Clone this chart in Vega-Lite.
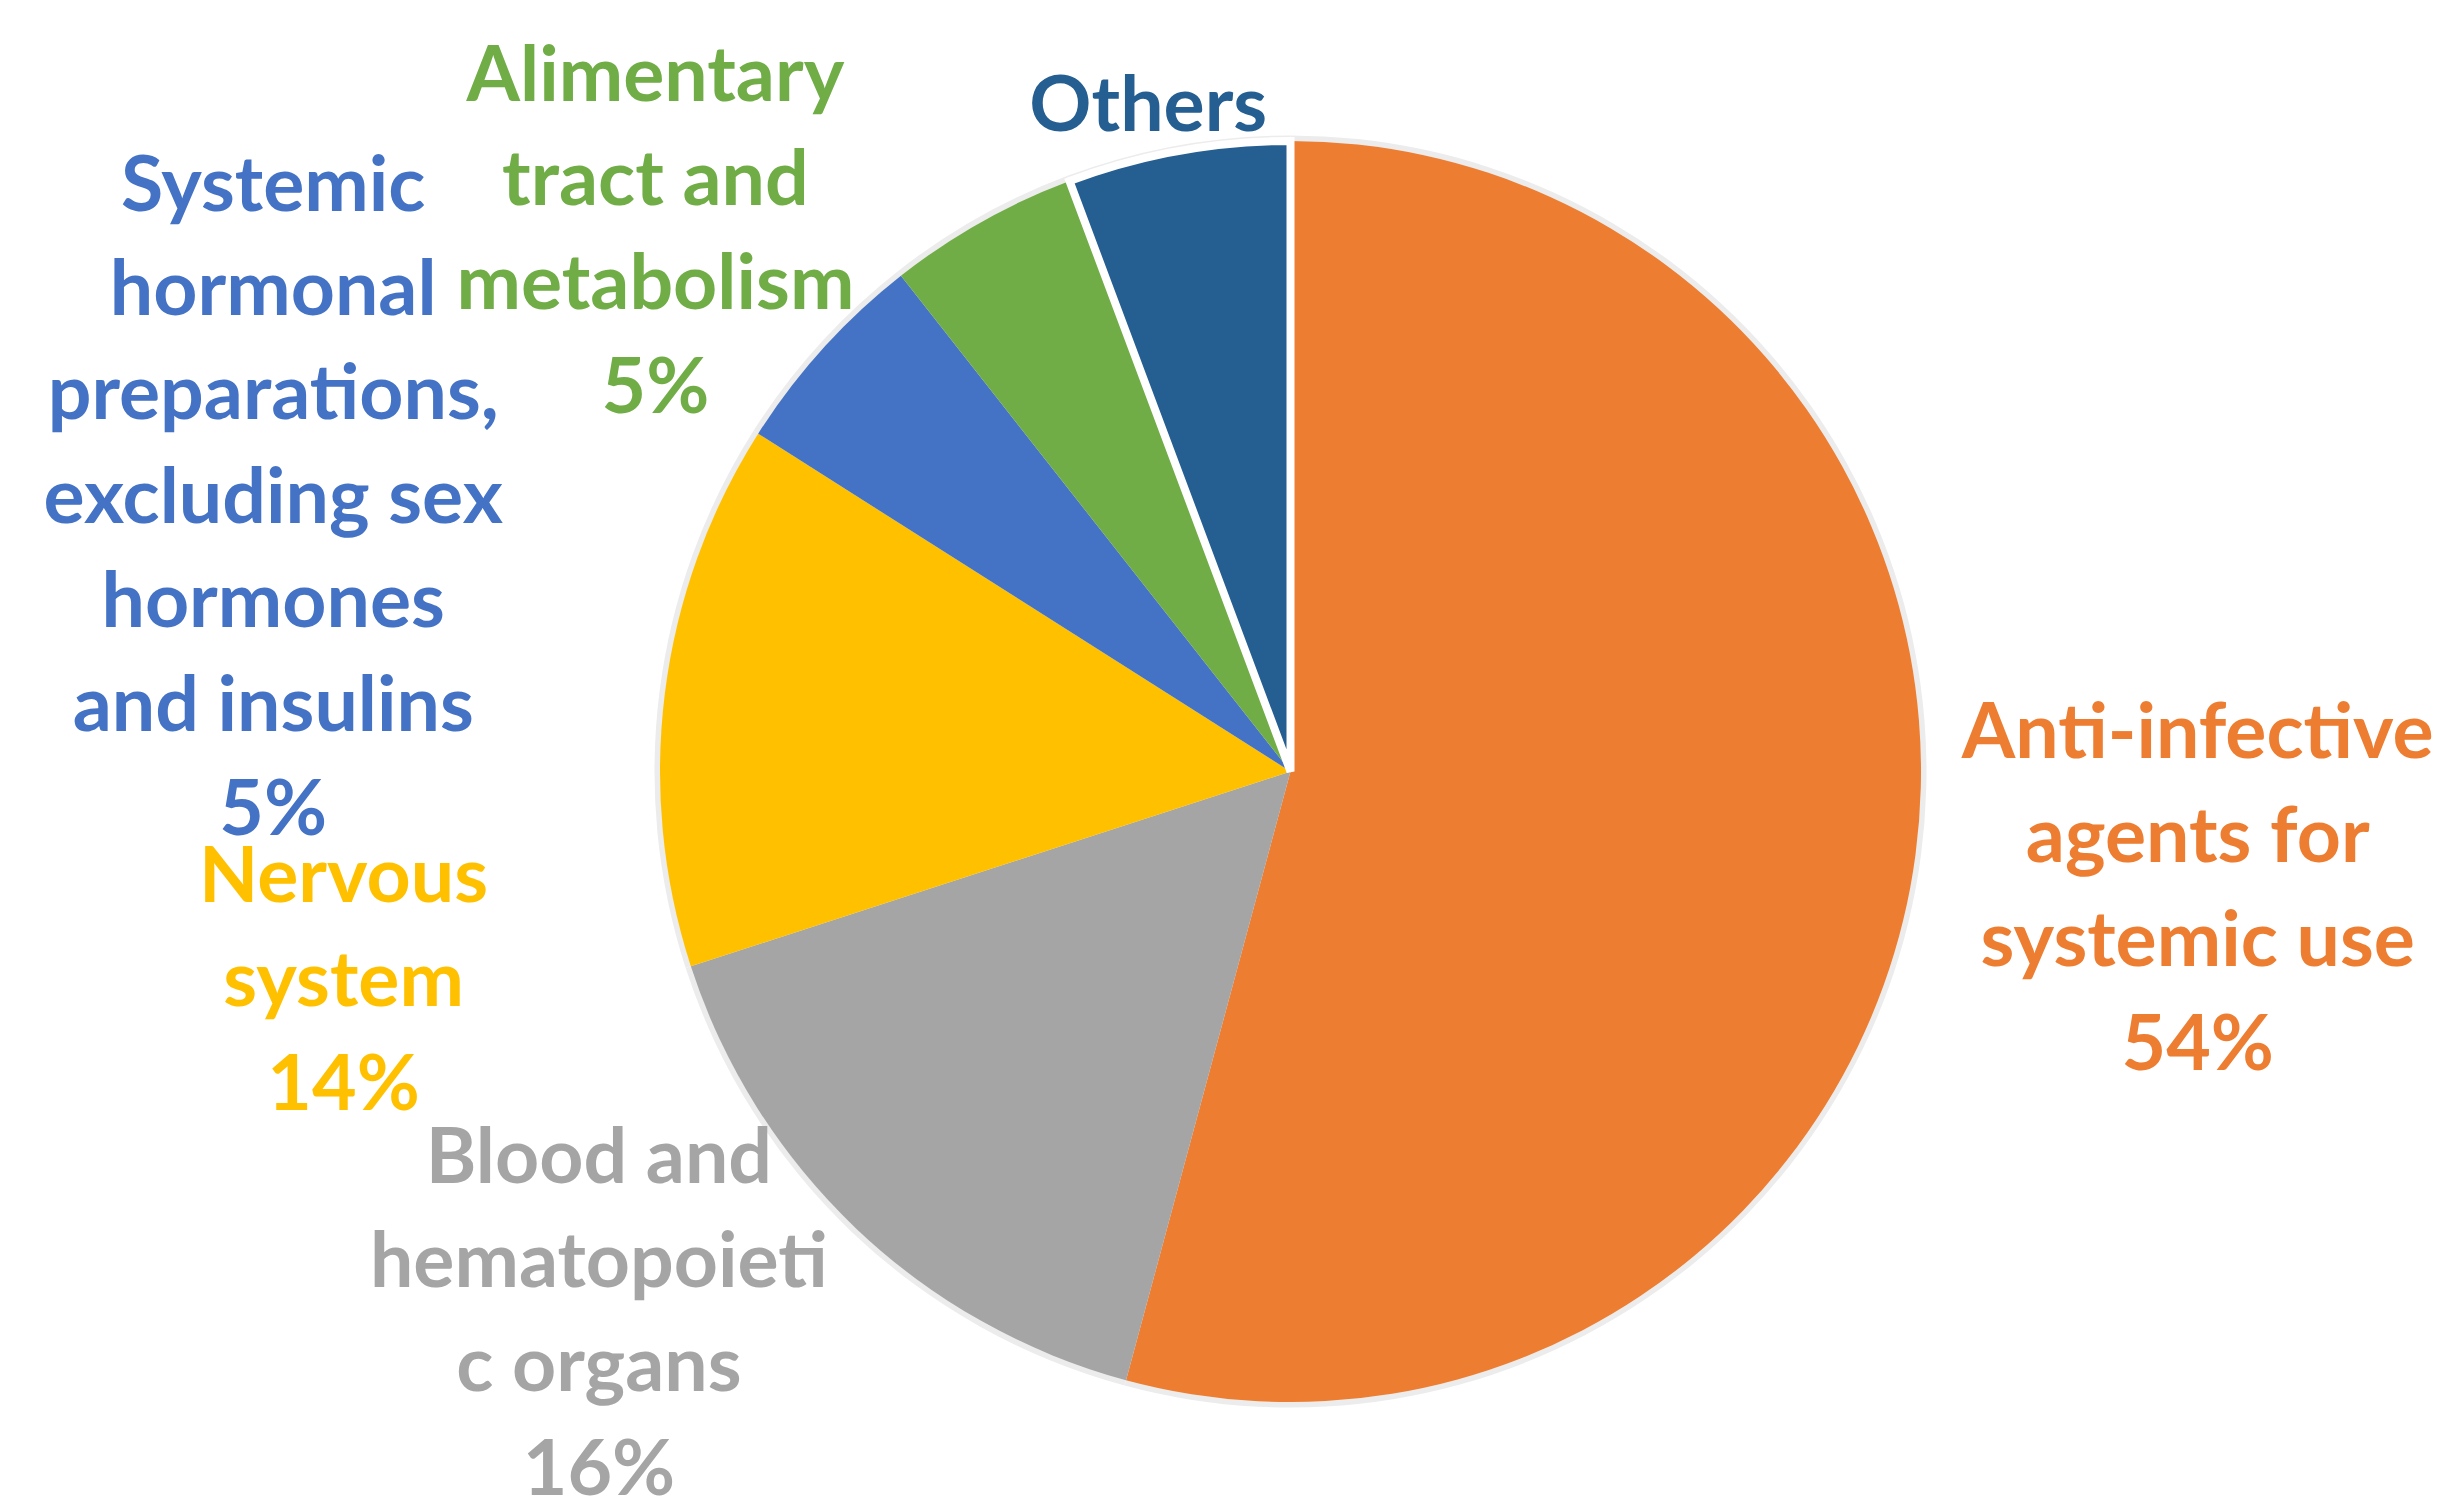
{
  "$schema": "https://vega.github.io/schema/vega-lite/v6.json",
  "width": 2321,
  "height": 1261,
  "autosize": {"type": "none"},
  "padding": {"left": 130, "top": 141, "right": 0, "bottom": 98},
  "background": "white",
  "config": {"view": {"stroke": null}},
  "data": {
    "values": [
      {"rank": 1, "cat": "Anti-infective agents for systemic use", "value": 54.2, "label": "Anti-infective\nagents for\nsystemic use\n54%"},
      {"rank": 2, "cat": "Blood and hematopoietic organs", "value": 15.8, "label": "Blood and\nhematopoieti\nc organs\n16%"},
      {"rank": 3, "cat": "Nervous system", "value": 14.0, "label": "Nervous\nsystem\n14%"},
      {"rank": 4, "cat": "Systemic hormonal preparations, excluding sex hormones and insulins", "value": 5.4, "label": "Systemic\nhormonal\npreparations,\nexcluding sex\nhormones\nand insulins\n5%"},
      {"rank": 5, "cat": "Alimentary tract and metabolism", "value": 4.9, "label": "Alimentary\ntract and\nmetabolism\n5%"},
      {"rank": 6, "cat": "Others", "value": 5.7, "label": "Others"}
    ]
  },
  "encoding": {
    "theta": {"field": "value", "type": "quantitative", "stack": true},
    "order": {"field": "rank", "type": "quantitative"},
    "color": {
      "field": "cat",
      "type": "nominal",
      "legend": null,
      "scale": {
        "domain": [
          "Anti-infective agents for systemic use",
          "Blood and hematopoietic organs",
          "Nervous system",
          "Systemic hormonal preparations, excluding sex hormones and insulins",
          "Alimentary tract and metabolism",
          "Others"
        ],
        "range": ["#ED7D31", "#A5A5A5", "#FFC000", "#4472C4", "#70AD47", "#255E91"]
      }
    }
  },
  "layer": [
    {
      "mark": {"type": "arc", "outerRadius": 636},
      "encoding": {"color": {"value": "#ececec"}}
    },
    {
      "mark": {"type": "arc", "outerRadius": 630.5},
      "encoding": {
        "stroke": {"condition": {"test": "datum.cat === 'Others'", "value": "white"}, "value": "transparent"},
        "strokeWidth": {"condition": {"test": "datum.cat === 'Others'", "value": 8}, "value": 0}
      }
    },
    {
      "mark": {"type": "text", "radius": 908, "thetaOffset": -0.1726, "font": "Lato", "fontWeight": "bold", "fontSize": 77, "lineHeight": 104, "lineBreak": "\n", "align": "center", "baseline": "middle"},
      "encoding": {"text": {"condition": {"test": "datum.rank === 1", "field": "label", "type": "nominal"}, "value": ""}}
    },
    {
      "mark": {"type": "text", "radius": 793, "thetaOffset": 0.2992, "font": "Lato", "fontWeight": "bold", "fontSize": 77, "lineHeight": 104, "lineBreak": "\n", "align": "center", "baseline": "middle"},
      "encoding": {"text": {"condition": {"test": "datum.rank === 2", "field": "label", "type": "nominal"}, "value": ""}}
    },
    {
      "mark": {"type": "text", "radius": 953, "thetaOffset": -0.2382, "font": "Lato", "fontWeight": "bold", "fontSize": 77, "lineHeight": 104, "lineBreak": "\n", "align": "center", "baseline": "middle"},
      "encoding": {"text": {"condition": {"test": "datum.rank === 3", "field": "label", "type": "nominal"}, "value": ""}}
    },
    {
      "mark": {"type": "text", "radius": 1173, "thetaOffset": -0.214, "font": "Lato", "fontWeight": "bold", "fontSize": 77, "lineHeight": 104, "lineBreak": "\n", "align": "center", "baseline": "middle"},
      "encoding": {"text": {"condition": {"test": "datum.rank === 4", "field": "label", "type": "nominal"}, "value": ""}}
    },
    {
      "mark": {"type": "text", "radius": 940, "thetaOffset": -0.2297, "font": "Lato", "fontWeight": "bold", "fontSize": 77, "lineHeight": 104, "lineBreak": "\n", "align": "center", "baseline": "middle"},
      "encoding": {"text": {"condition": {"test": "datum.rank === 5", "field": "label", "type": "nominal"}, "value": ""}}
    },
    {
      "mark": {"type": "text", "radius": 679, "thetaOffset": -0.032, "font": "Lato", "fontWeight": "bold", "fontSize": 77, "lineHeight": 104, "lineBreak": "\n", "align": "center", "baseline": "middle"},
      "encoding": {"text": {"condition": {"test": "datum.rank === 6", "field": "label", "type": "nominal"}, "value": ""}}
    }
  ]
}
